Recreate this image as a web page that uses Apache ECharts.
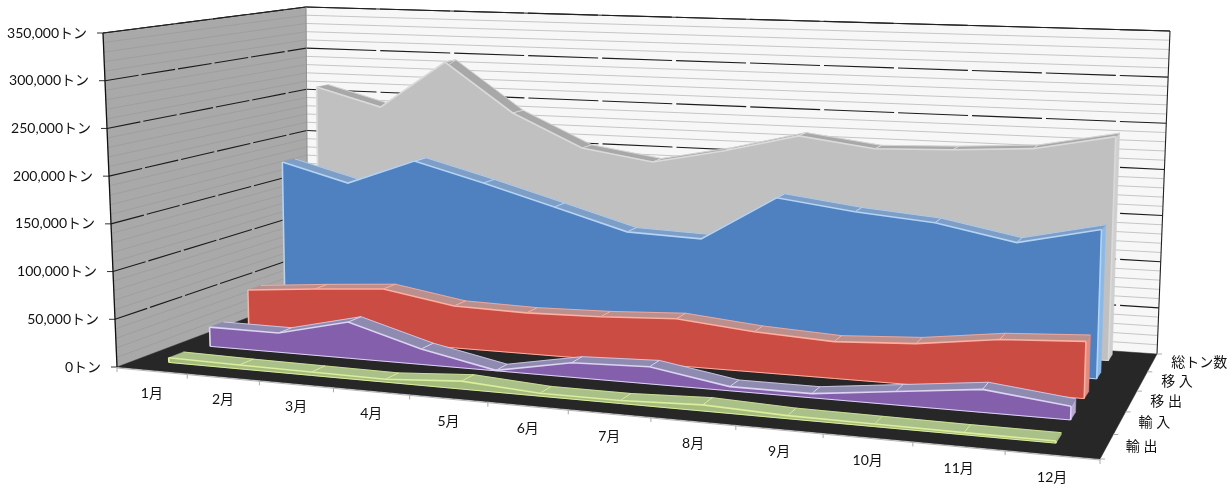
<!DOCTYPE html><html><head><meta charset="utf-8"><script src="https://cdn.jsdelivr.net/npm/echarts@6/dist/echarts.min.js"></script></head><body style="margin:0;background:#fff"><div id="c" style="width:1232px;height:489px"></div>
<script>
var months=['1月','2月','3月','4月','5月','6月','7月','8月','9月','10月','11月','12月'];
var valueTicks=[0,50000,100000,150000,200000,250000,300000,350000];
var seriesNames=['輸 出','輸 入','移 出','移 入','総トン数'];
var exportsTons=[5000,4000,3500,3000,8000,3000,3000,6000,3000,2500,2000,2000];
var importsTons=[21000,20700,38700,16400,500,15000,17600,4200,4200,13300,22400,13100];
var outboundTons=[46400,53100,58700,45800,44100,45800,49700,42100,38000,42300,52700,57100];
var inboundTons=[179700,159600,188800,168100,145700,122800,120000,169200,158800,151900,135900,154400];
var totalTons=[258500,237900,293800,237600,200800,188700,205100,225600,215000,217800,222800,239500];
var FONT="Lato,'Noto Sans CJK JP',sans-serif";
function H(q){var x0=q[0][0],y0=q[0][1],x1=q[1][0],y1=q[1][1],x2=q[2][0],y2=q[2][1],x3=q[3][0],y3=q[3][1];
var dx1=x1-x2,dx2=x3-x2,sx=x0-x1+x2-x3,dy1=y1-y2,dy2=y3-y2,sy=y0-y1+y2-y3,den=dx1*dy2-dx2*dy1;
var g=(sx*dy2-dx2*sy)/den,h=(dx1*sy-sx*dy1)/den,a=x1-x0+g*x1,b=x3-x0+h*x3,d=y1-y0+g*y1,e=y3-y0+h*y3;
return function(u,v){var w=g*u+h*v+1;return[(a*u+b*v+x0)/w,(d*u+e*v+y0)/w];};}
var F=H([[117,367],[1100,459],[1157,354],[308,295]]),T=H([[103,33],[1114,72],[1170,31],[306,7]]);
function W(u){return u+.081*u*(1-u);}
function P(u,d,t){var w=W(u),a=F(w,d),b=T(w,d);return[a[0]+(b[0]-a[0])*t,a[1]+(b[1]-a[1])*t];}
var G={l:100,t:20,w:1000,h:400};
function uOf(x){return (x-G.l)/G.w;}function tOf(y){return (G.t+G.h-y)/G.h;}
function spread(u){return u-.003;}
var TH=.07;
var styles=[
 {d:.09,vals:exportsTons,face:'#a3bb7c',lid:'#a9c088',side:'#b5c896',hi:'#dcee9c'},
 {d:.29,vals:importsTons,face:'#8460ac',lid:'#8f8bb0',side:'#b8a8d4',hi:'#dcd4f2'},
 {d:.49,vals:outboundTons,face:'#cb4c43',lid:'#b9908e',side:'#e08c80',hi:'#ffb0a0'},
 {d:.69,vals:inboundTons,face:'#4f80bf',lid:'#7f9ec6',side:'#8cb8e6',hi:'#b4d4f6'},
 {d:.89,vals:totalTons,face:'#c0c0c0',lid:'#a8a8a8',side:'#cfcfcf',hi:'#dadada'}];
function poly(pts,fill,stroke,lw){return{type:'polygon',shape:{points:pts},style:{fill:fill,stroke:stroke||fill,lineWidth:lw===undefined?.5:lw}};}
function line(pts,c,lw,dash){return{type:'polyline',shape:{points:pts},style:{fill:null,stroke:c,lineWidth:lw,lineDash:dash||null}};}
function text(x,y,s,size,align){return{type:'text',style:{x:x,y:y,text:s,fill:'#111',font:size+'px '+FONT,textAlign:align,textVerticalAlign:'middle'}};}
function areaItem(st){return function(params,api){
 if(params.dataIndex!==0)return null;
 var fr=[],bk=[],bf=[],bb=[];
 st.vals.forEach(function(v,i){var c=api.coord([i,v]),u=spread(uOf(c[0])),t=tOf(c[1]);
  fr.push(P(u,st.d,t));bk.push(P(u,st.d+TH,t));bf.push(P(u,st.d,0));bb.push(P(u,st.d+TH,0));});
 var ch=[];var n=fr.length;
 ch.push(poly([fr[n-1],bk[n-1],bb[n-1],bf[n-1]],st.side));
 for(var i=0;i<n-1;i++){ch.push(poly([fr[i],fr[i+1],bk[i+1],bk[i]],st.lid));}
 for(i=1;i<n-1;i++){ch.push(line([fr[i],bk[i]],st.hi,1));}
 ch.push(line(bk,st.hi,.8));
 ch.push(poly(fr.concat(bf.slice().reverse()),st.face));
 ch.push(line(fr,st.hi,1.6));
 ch.push(line(bf,st.hi,1));
 ch.push(line([bf[0],fr[0]],st.hi,1.6));ch.push(line([bf[n-1],fr[n-1]],st.hi,1.6));
 return{type:'group',children:ch};
};}
function frameItem(params,api){
 if(params.dataIndex!==0)return null;
 var ch=[];
 function tv(v){return tOf(api.coord([0,v])[1]);}
 var A=P(0,0,0),B=P(1,0,0),C=P(1,1,0),D=P(0,1,0),A1=P(0,0,1),C1=P(1,1,1),D1=P(0,1,1);
 ch.push(poly([D,C,C1,D1],'#f7f7f7'));
 ch.push(poly([A,D,D1,A1],'#a9a9a9'));
 ch.push(poly([A,B,C,D],'#272727'));
 ch.push(line([[A[0],A[1]+1],[B[0],B[1]+1]],'#b5b5b5',1));
 for(var m=0;m<=350000;m+=10000){if(m%50000===0)continue;var t=tv(m);
  ch.push(line([P(0,1,t),P(1,1,t)],'#c6c6c6',1));ch.push(line([P(0,0,t),P(0,1,t)],'#9f9f9f',1));}
 valueTicks.forEach(function(v,i){var t=tv(v),a=P(0,0,t),b=P(0,1,t),c=P(1,1,t);
  if(v>0){ch.push(line([a,b],'#1c1c1c',1.1,[34,3]));ch.push(line([b,c],'#1c1c1c',1.1,[70,4]));}
  ch.push(line([a,[a[0]-6,a[1]]],'#333',1));
  var lab=v.toLocaleString('en-US')+'トン';
  ch.push(text(a[0]-16,a[1],lab,14,'right'));});
 ch.push(line([A,A1],'#111',1.3));ch.push(line([A1,D1],'#222',1.1));ch.push(line([D1,C1],'#222',1.1));ch.push(line([C,C1],'#222',1.1));ch.push(line([D,D1],'#888',.8));
 var cats=12;
 for(var k=0;k<=cats;k++){var p=P(k/cats,0,0);ch.push(line([p,[p[0],p[1]+5]],'#aaa',1));}
 for(k=0;k<=5;k++){var q=F(1,k/5);ch.push(line([q,[q[0]+5,q[1]]],'#aaa',1));}
 return{type:'group',children:ch};
}
function labelItem(params,api){
 if(params.dataIndex!==0)return null;
 var ch=[];
 months.forEach(function(m,i){var c=api.coord([i,0]),p=P(uOf(c[0]),0,0);ch.push(text(p[0],p[1]+23,m,14,'center'));});
 seriesNames.forEach(function(s,i){var q=F(1,(i+.5)/5);ch.push(text(q[0]+19,q[1],s,14,'left'));});
 return{type:'group',children:ch};
}
var chart=echarts.init(document.getElementById('c'),null,{renderer:'canvas'});
var series=[{type:'custom',coordinateSystem:'cartesian2d',renderItem:frameItem,data:[[0,0]],silent:true,animation:false,clip:false}];
for(var i=4;i>=0;i--){series.push({type:'custom',name:seriesNames[i],coordinateSystem:'cartesian2d',renderItem:areaItem(styles[i]),data:styles[i].vals.map(function(v,j){return[j,v];}),silent:true,animation:false,clip:false});}
series.push({type:'custom',coordinateSystem:'cartesian2d',renderItem:labelItem,data:[[0,0]],silent:true,animation:false,clip:false});
chart.setOption({animation:false,backgroundColor:'#fff',grid:{left:G.l,top:G.t,width:G.w,height:G.h},
 xAxis:{type:'category',data:months,boundaryGap:true,show:false},yAxis:{type:'value',min:0,max:350000,interval:50000,show:false},series:series});
</script></body></html>
